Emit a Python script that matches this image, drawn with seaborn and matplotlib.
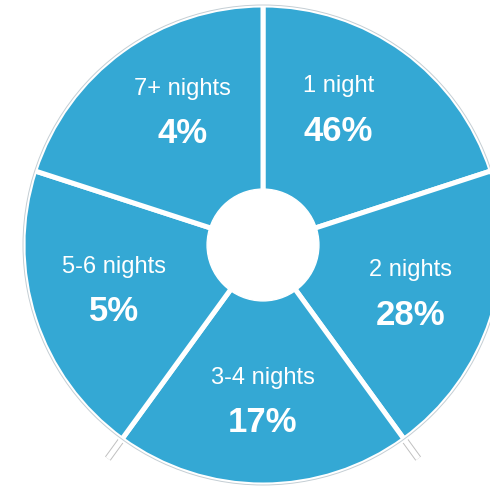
import numpy as np
import matplotlib
matplotlib.use("Agg")
import matplotlib.pyplot as plt
import matplotlib.patheffects as pe
import seaborn as sns

# Length of stay, five equal sectors with their share written inside
stays = ["1 night", "2 nights", "3-4 nights", "5-6 nights", "7+ nights"]
shares = [46, 28, 17, 5, 4]
sector_weights = [1, 1, 1, 1, 1]

sns.set_theme(style="white")
plt.rcParams["font.family"] = ["Liberation Sans", "DejaVu Sans"]

blue = "#34A8D4"
# small angular nudges (degrees) so the upper labels sit nearer the top
label_nudge = [7, 0, 0, -1.5, -5]

fig = plt.figure(figsize=(4.9, 4.87), dpi=100)
ax = fig.add_axes([0, 0, 1, 1])
ax.set_axis_off()

wedges, _ = ax.pie(
    sector_weights,
    colors=[blue] * len(stays),
    startangle=90,
    counterclock=False,
    radius=1.0,
    wedgeprops=dict(edgecolor="white", linewidth=3.6),
)
# pie centre sits at (263, 245) px with radius 240 px
ax.set_aspect("auto")
ax.set_xlim(-263 / 240, (490 - 263) / 240)
ax.set_ylim(-(487 - 245) / 240, 245 / 240)

# thin grey rim
rim = plt.Circle((0, 0), 1.0, fill=False, edgecolor="#c4ced4", linewidth=0.7, zorder=3)
ax.add_patch(rim)

# lower separators poke out past the rim
for w in wedges:
    t = np.deg2rad(w.theta1)
    if np.sin(t) < -0.5:
        ax.plot([0.9 * np.cos(t), 1.1 * np.cos(t)], [0.9 * np.sin(t), 1.1 * np.sin(t)],
                color="white", linewidth=3.6, solid_capstyle="butt", zorder=0,
                path_effects=[pe.Stroke(linewidth=5.0, foreground="#c0c0c0"), pe.Normal()])

# white hub
ax.add_patch(plt.Circle((0, 0), 0.233, color="white", zorder=4))

# labels
for w, name, pct, nudge in zip(wedges, stays, shares, label_nudge):
    mid = np.deg2rad((w.theta1 + w.theta2) / 2 + nudge)
    x, y = 0.648 * np.cos(mid), 0.648 * np.sin(mid)
    ax.text(x, y + 0.094, name, ha="center", va="center", color="white", fontsize=17, zorder=5)
    ax.text(x, y - 0.092, f"{pct}%", ha="center", va="center", color="white",
            fontsize=25, fontweight="bold", zorder=5)

fig.savefig("out.png", dpi=100)
